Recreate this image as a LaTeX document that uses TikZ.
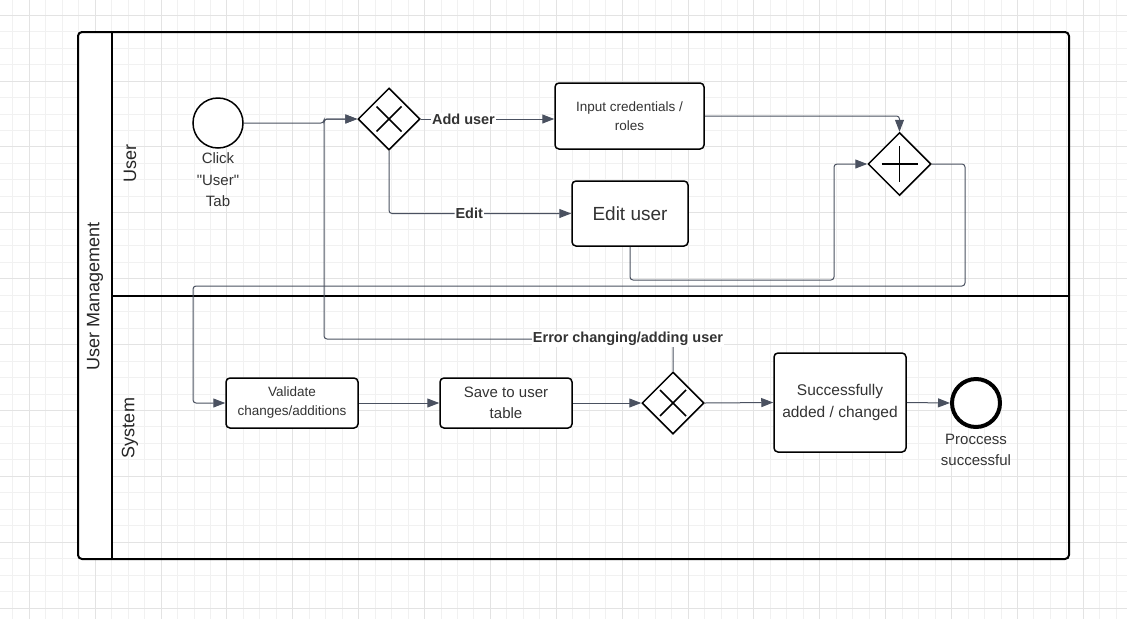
\documentclass[tikz,border=0pt]{standalone}
\usepackage{fontspec}
\setmainfont{Liberation Sans}[Ligatures=TeXOff]
\usetikzlibrary{arrows.meta,shapes.geometric,calc}
\definecolor{txt}{HTML}{333333}
\definecolor{flowc}{HTML}{4A5160}
\definecolor{gridminor}{HTML}{F1F1F1}
\definecolor{gridmajor}{HTML}{E3E3E3}
\begin{document}
\begin{tikzpicture}[x=1pt,y=-1pt,
  task/.style={draw=black, line width=1.5pt, rounded corners=4pt, fill=white, align=center, text=txt, inner sep=2pt},
  gw/.style={diamond, draw=black, line width=1.5pt, fill=white, minimum width=62pt, minimum height=62pt, inner sep=0pt},
  flow/.style={draw=flowc, line width=1pt, rounded corners=3pt, -{Triangle[length=12pt,width=9pt]}},
  flowlabel/.style={fill=white, text=txt, font=\bfseries\fontsize{14.5}{17}\selectfont, inner sep=1pt},
  evlabel/.style={text=txt, align=center, font=\fontsize{15}{21.5}\selectfont},
  lanelabel/.style={rotate=90, text=black!85, font=\fontsize{18}{20}\selectfont},
  gwmark/.style={line width=1.5pt, draw=black}
]
\useasboundingbox (0,0) rectangle (1127,619);
% background grid
\foreach \i in {0,...,68} \draw[gridminor, line width=1pt] ({12.83+16.47*\i},0) -- ++(0,619);
\foreach \i in {0,...,37} \draw[gridminor, line width=1pt] (0,{15.2+16.47*\i}) -- ++(1127,0);
\foreach \i in {0,...,17} \draw[gridmajor, line width=1pt] ({29.3+65.88*\i},0) -- ++(0,619);
\foreach \i in {0,...,9} \draw[gridmajor, line width=1pt] (0,{15.2+65.88*\i}) -- ++(1127,0);

% pool
\fill[white, rounded corners=4pt] (78,32) rectangle (112,559);
\fill[white] (95,32) rectangle (112,559);
\draw[line width=2pt, rounded corners=4pt] (78,32) rectangle (1069,559);
\draw[line width=2pt] (112,32) -- (112,559);
\draw[line width=2pt] (112,296) -- (1069,296);
\node[lanelabel] (pool) at (95,296) {User Management};
\node[lanelabel] (laneuser) at (130,163) {User};
\node[lanelabel] (lanesys) at (130,428) {System};

% nodes
\node[circle, draw=black, line width=1.5pt, fill=white, minimum size=50pt, inner sep=0pt] (start) at (218,123) {};
\node[evlabel] (startlbl) at (218,180) {Click\\"User"\\Tab};
\node[gw] (g1) at (389,119) {};
\draw[gwmark] ($(g1)+(-12.5,-12.5)$) -- ($(g1)+(12.5,12.5)$);
\draw[gwmark] ($(g1)+(-12.5,12.5)$) -- ($(g1)+(12.5,-12.5)$);
\node[task, minimum width=149pt, minimum height=66pt, font=\fontsize{13.5}{19}\selectfont] (inp) at (629.5,116) {Input credentials /\\roles};
\node[task, minimum width=116pt, minimum height=65pt, font=\fontsize{19}{22}\selectfont] (edit) at (630,213.5) {Edit user};
\node[gw, minimum width=63pt, minimum height=63pt] (g2) at (899.5,164) {};
\draw[gwmark] ($(g2)+(-18,0)$) -- ($(g2)+(18,0)$);
\draw[gwmark] ($(g2)+(0,-18)$) -- ($(g2)+(0,18)$);
\node[task, minimum width=132pt, minimum height=50pt, font=\fontsize{13.5}{19}\selectfont] (val) at (292,403) {Validate\\changes/additions};
\node[task, minimum width=132pt, minimum height=50pt, font=\fontsize{15}{21}\selectfont] (save) at (506,403) {Save to user\\table};
\node[gw] (g3) at (673,403) {};
\draw[gwmark] ($(g3)+(-13,-13)$) -- ($(g3)+(13,13)$);
\draw[gwmark] ($(g3)+(-13,13)$) -- ($(g3)+(13,-13)$);
\node[task, minimum width=132pt, minimum height=99pt, font=\fontsize{15.5}{21.5}\selectfont] (succ) at (840,402.5) {Successfully\\added / changed};
\node[circle, draw=black, line width=4pt, fill=white, minimum size=48pt, inner sep=0pt] (end) at (976,403) {};
\node[evlabel] (endlbl) at (976,450) {Proccess\\successful};

% flows
\draw[flow] (start.east) -- (324,123) |- (g1.west);
\draw[flow] (g1.east) -- node[flowlabel, pos=0.32] (addlbl) {Add user} (g1.east -| inp.west);
\draw[flow] (g1.south) |- node[flowlabel, pos=0.72] (editlbl) {Edit} (edit.west);
\draw[flow] (inp.east) -| (g2.north);
\draw[flow] (edit.south) |- (834,280) |- (g2.west);
\draw[flow] (g2.east) -| (965,286) -| (193,403) -- (val.west);
\draw[flow] (val.east) -- (save.west);
\draw[flow] (save.east) -- (g3.west);
\draw[flow] (g3.east) -- (succ.west);
\draw[flow] (succ.east) -- (end.west);
\draw[flow] (g3.north) |- (324,339) |- (g1.west);
\node[flowlabel] (errlbl) at (628,339) {Error changing/adding user};
\end{tikzpicture}
\end{document}
